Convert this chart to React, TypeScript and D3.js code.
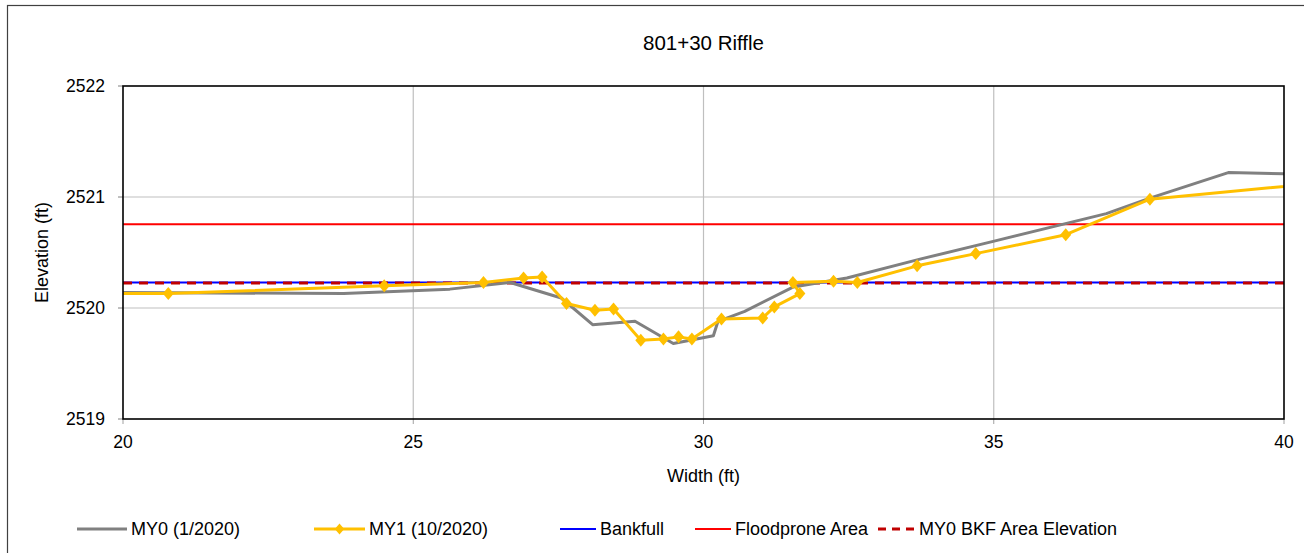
import * as d3 from 'd3';

// station (ft) and elevation (ft)
const my0Width = [20, 23.8, 25.63, 26.67, 27.55, 28.09, 28.82, 29.48, 30.17, 30.25, 30.71, 31.55, 32.47, 33.73, 34.99, 36.94, 37.69, 39.04, 40];
const my0Elev = [2520.14, 2520.13, 2520.17, 2520.23, 2520.09, 2519.85, 2519.88, 2519.68, 2519.75, 2519.88, 2519.97, 2520.19, 2520.27, 2520.44, 2520.6, 2520.85, 2520.99, 2521.22, 2521.21];

const my1Width = [19.5, 20.78, 24.5, 26.21, 26.9, 27.22, 27.64, 28.13, 28.45, 28.92, 29.31, 29.57, 29.8, 30.31, 31.02, 31.22, 31.66, 31.54, 32.24, 32.65, 33.68, 34.69, 36.24, 37.69, 41.5];
const my1Elev = [2520.13, 2520.13, 2520.2, 2520.23, 2520.27, 2520.28, 2520.04, 2519.98, 2519.99, 2519.71, 2519.72, 2519.74, 2519.72, 2519.9, 2519.91, 2520.01, 2520.13, 2520.23, 2520.24, 2520.23, 2520.38, 2520.49, 2520.66, 2520.98, 2521.17];

const bankfullElev = 2520.23;
const floodproneElev = 2520.755;
const bkfAreaElev = 2520.225;

const xTicks = [20, 25, 30, 35, 40];
const yTicks = [2519, 2520, 2521, 2522];

const W = 1304;
const H = 553;
const margin = { left: 123, right: 20, top: 86, bottom: 134 };
const FONT = '"Liberation Sans", Arial, sans-serif';

const legendItems = [
  { label: 'MY0 (1/2020)', color: '#808080', x1: 77, x2: 127, dash: null, marker: false, width: 3 },
  { label: 'MY1 (10/2020)', color: '#FFC000', x1: 314, x2: 365, dash: null, marker: true, width: 3 },
  { label: 'Bankfull', color: '#0000FF', x1: 560, x2: 596, dash: null, marker: false, width: 2 },
  { label: 'Floodprone Area', color: '#FF0000', x1: 695, x2: 731, dash: null, marker: false, width: 2 },
  { label: 'MY0 BKF Area Elevation', color: '#C00000', x1: 878, x2: 915, dash: '8,6', marker: false, width: 3 },
];

const diamond = (r: number) => `M0,${-r}L${r * 0.85},0L0,${r}L${-r * 0.85},0Z`;

export default function App() {
  const x = d3.scaleLinear().domain([20, 40]).range([margin.left, W - margin.right]);
  const y = d3.scaleLinear().domain([2519, 2522]).range([H - margin.bottom, margin.top]);
  const [x0, x1] = x.range();
  const [yb, yt] = y.range();

  const my0 = my0Width.map((w, i) => [w, my0Elev[i]] as [number, number]);
  const my1 = my1Width.map((w, i) => [w, my1Elev[i]] as [number, number]);
  const line = d3.line<[number, number]>().x(d => x(d[0])).y(d => y(d[1]));

  return (
    <svg width={W} height={H} style={{ position: 'absolute', left: 0, top: 0, background: '#fff' }} fontFamily={FONT}>
      <defs>
        <clipPath id="plot">
          <rect x={x0} y={yt} width={x1 - x0} height={yb - yt} />
        </clipPath>
      </defs>
      <rect x={7.5} y={5.5} width={1320} height={580} fill="#fff" stroke="#404040" strokeWidth={1.2} />

      <text x={(x0 + x1) / 2} y={50} textAnchor="middle" fontSize={20.5} fill="#000">801+30 Riffle</text>

      {/* grid */}
      {xTicks.slice(1, -1).map(t => (
        <line key={'gx' + t} x1={x(t)} x2={x(t)} y1={yt} y2={yb} stroke="#BFBFBF" strokeWidth={1.2} />
      ))}
      {yTicks.slice(1, -1).map(t => (
        <line key={'gy' + t} x1={x0} x2={x1} y1={y(t)} y2={y(t)} stroke="#BFBFBF" strokeWidth={1.2} />
      ))}
      {/* ticks */}
      {xTicks.map(t => (
        <line key={'tx' + t} x1={x(t)} x2={x(t)} y1={yb} y2={yb + 5} stroke="#A0A0A0" strokeWidth={1} />
      ))}
      {yTicks.map(t => (
        <line key={'ty' + t} x1={x0 - 5} x2={x0} y1={y(t)} y2={y(t)} stroke="#808080" strokeWidth={1} />
      ))}

      <g clipPath="url(#plot)">
        <line x1={x0} x2={x1} y1={y(bankfullElev)} y2={y(bankfullElev)} stroke="#0000FF" strokeWidth={2} />
        <line x1={x0} x2={x1} y1={y(floodproneElev)} y2={y(floodproneElev)} stroke="#FF0000" strokeWidth={2} />
        <line x1={x0} x2={x1} y1={y(bkfAreaElev)} y2={y(bkfAreaElev)} stroke="#C00000" strokeWidth={3} strokeDasharray="9,7" />
        <path d={line(my0) || ''} fill="none" stroke="#808080" strokeWidth={3} strokeLinejoin="round" />
        <path d={line(my1) || ''} fill="none" stroke="#FFC000" strokeWidth={3} strokeLinejoin="round" />
        {my1.map((d, i) => (
          <path key={'m' + i} d={diamond(6.5)} transform={`translate(${x(d[0])},${y(d[1])})`} fill="#FFC000" />
        ))}
      </g>

      <rect x={x0} y={yt} width={x1 - x0} height={yb - yt} fill="none" stroke="#000" strokeWidth={1.6} />

      {/* tick labels */}
      {xTicks.map(t => (
        <text key={'lx' + t} x={x(t)} y={yb + 29} textAnchor="middle" fontSize={17.5} fill="#000">{t}</text>
      ))}
      {yTicks.map(t => (
        <text key={'ly' + t} x={x0 - 18} y={y(t) + 6} textAnchor="end" fontSize={17.5} fill="#000">{t}</text>
      ))}

      <text x={(x0 + x1) / 2} y={482} textAnchor="middle" fontSize={18} fill="#000">Width (ft)</text>
      <text transform={`translate(48,${(yt + yb) / 2}) rotate(-90)`} textAnchor="middle" fontSize={18} fill="#000">Elevation (ft)</text>

      {legendItems.map(item => (
        <g key={item.label}>
          <line x1={item.x1} x2={item.x2} y1={529} y2={529} stroke={item.color} strokeWidth={item.width}
            strokeDasharray={item.dash || undefined} />
          {item.marker && (
            <path d={diamond(5.5)} transform={`translate(${(item.x1 + item.x2) / 2},529)`} fill={item.color} />
          )}
          <text x={item.x2 + 4} y={535} fontSize={18} fill="#000">{item.label}</text>
        </g>
      ))}
    </svg>
  );
}
